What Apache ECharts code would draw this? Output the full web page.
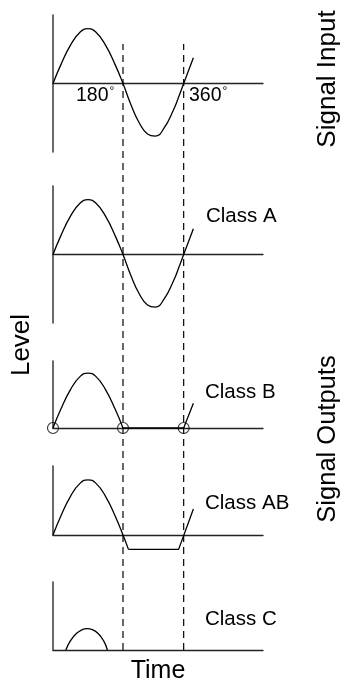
<!DOCTYPE html>
<html>
<head>
<meta charset="utf-8">
<script src="https://cdn.jsdelivr.net/npm/echarts@6/dist/echarts.min.js"></script>
<style>
  html, body { margin: 0; padding: 0; background: #fff; }
  #main { width: 347px; height: 681px; }
</style>
</head>
<body>
<div id="main"></div>
<script>
// phase in degrees (x), level (y, 1 = peak of input)
const inputWave = [[0, 0], [20, 0.34], [45, 0.7], [70, 0.94], [90, 1.0], [110, 0.94], [135, 0.7], [160, 0.34], [180, 0],
  [200, -0.38], [222, -0.72], [243, -0.92], [263, -0.96], [285, -0.82], [310, -0.48], [325, -0.21], [336, 0], [361, 0.47]];
const classAWave = [[0, 0], [20, 0.34], [45, 0.7], [70, 0.94], [90, 1.0], [110, 0.94], [135, 0.7], [160, 0.34], [180, 0],
  [200, -0.38], [222, -0.72], [243, -0.92], [263, -0.96], [285, -0.82], [310, -0.48], [325, -0.21], [336, 0], [361, 0.47]];
const classBHump = [[0, 0], [20, 0.34], [45, 0.7], [70, 0.94], [90, 1.0], [110, 0.94], [135, 0.7], [160, 0.34], [180, 0]];
const classBTail = [[180, 0], [336, 0], [361, 0.45]];
const classBMarks = [[0, 0], [180, 0], [336, 0]];
const classABHump = [[0, 0], [20, 0.34], [45, 0.7], [70, 0.94], [90, 1.0], [110, 0.94], [135, 0.7], [160, 0.34], [180, 0], [194, -0.26]];
const classABClip = [[194, -0.26], [323, -0.26], [361, 0.47]];
const classCWave = [[33, 0], [45, 0.17], [60, 0.3], [75, 0.37], [88, 0.39], [101, 0.37], [116, 0.3], [130, 0.17], [140, 0]];
const dashedAt = [180, 336];
const degreeLabels = ['180', '360'];
const classLabels = ['Class A', 'Class B', 'Class AB', 'Class C'];

const font = 'Liberation Sans, Arial, sans-serif';

// panel boxes (grid 0-4) and the overlay for dashed guides (grid 5)
const grids = [
  { left: 53, width: 210, top: 15, height: 137 },
  { left: 53, width: 210, top: 186, height: 137 },
  { left: 53, width: 210, top: 361, height: 67 },
  { left: 53, width: 210, top: 466, height: 69 },
  { left: 53, width: 210, top: 582, height: 68 },
  { left: 53, width: 210, top: 44, height: 606 }
];
const yRanges = [[-1.25, 1.25], [-1.25, 1.25], [0, 1.22], [0, 1.25], [0, 1.24], [0, 1]];

const xAxes = grids.map((g, i) => ({
  type: 'value', gridIndex: i, min: 0, max: 540,
  axisLine: { show: i < 5, onZero: true, lineStyle: { color: '#222', width: 1.3 } },
  axisTick: { show: false }, axisLabel: { show: false }, splitLine: { show: false }
}));
const yAxes = grids.map((g, i) => ({
  type: 'value', gridIndex: i, min: yRanges[i][0], max: yRanges[i][1],
  axisLine: { show: i < 5, onZero: false, lineStyle: { color: '#444', width: 1.6 } },
  axisTick: { show: false }, axisLabel: { show: false }, splitLine: { show: false }
}));

function curve(data, idx, smooth) {
  return {
    type: 'line', xAxisIndex: idx, yAxisIndex: idx, data: data,
    smooth: smooth, symbol: 'none', clip: false,
    lineStyle: { color: '#000', width: 1.3 }
  };
}

const series = [
  curve(inputWave, 0, true),
  curve(classAWave, 1, true),
  curve(classBHump, 2, true),
  curve(classBTail, 2, false),
  curve(classABHump, 3, true),
  curve(classABClip, 3, false),
  curve(classCWave, 4, true),
  {
    type: 'scatter', xAxisIndex: 2, yAxisIndex: 2, data: classBMarks, clip: false,
    symbol: 'circle', symbolSize: 11,
    itemStyle: { color: 'rgba(0,0,0,0)', borderColor: '#000', borderWidth: 1.1 }
  }
];
dashedAt.forEach(x => {
  series.push({
    type: 'line', xAxisIndex: 5, yAxisIndex: 5, data: [[x, 0], [x, 1]], symbol: 'none',
    lineStyle: { color: '#000', width: 1.2, type: [7, 5] }
  });
});

function txt(text, x, y, size, rot, align) {
  return {
    type: 'text', x: x, y: y, rotation: rot || 0,
    style: { text: text, fontFamily: font, fontSize: size, fill: '#000', textAlign: align || 'left', textVerticalAlign: 'bottom' }
  };
}

// degree label: number plus a small raised ring
function degree(text, x, y) {
  return {
    type: 'text', x: x, y: y,
    style: {
      text: '{n|' + text + '}{d|°}', fontFamily: font, textVerticalAlign: 'bottom',
      rich: {
        n: { fontFamily: font, fontSize: 19.5, fill: '#000' },
        d: { fontFamily: font, fontSize: 12, fill: '#000', verticalAlign: 'top', padding: [0, 0, 6, 1] }
      }
    }
  };
}

const graphic = [
  degree(degreeLabels[0], 76, 106),
  degree(degreeLabels[1], 189, 106),
  txt(classLabels[0], 206, 227, 20.5),
  txt(classLabels[1], 205, 403, 20.5),
  txt(classLabels[2], 205, 514, 20.5),
  txt(classLabels[3], 205, 630, 20.5),
  txt('Time', 158, 684, 25, 0, 'center'),
  txt('Level', 35, 345, 26, Math.PI / 2, 'center'),
  txt('Signal Input', 341, 79, 26, Math.PI / 2, 'center'),
  txt('Signal Outputs', 341, 439, 25.5, Math.PI / 2, 'center')
];

const chart = echarts.init(document.getElementById('main'), null, { renderer: 'canvas' });
chart.setOption({
  animation: false,
  grid: grids,
  xAxis: xAxes,
  yAxis: yAxes,
  series: series,
  graphic: graphic
});
</script>
</body>
</html>
